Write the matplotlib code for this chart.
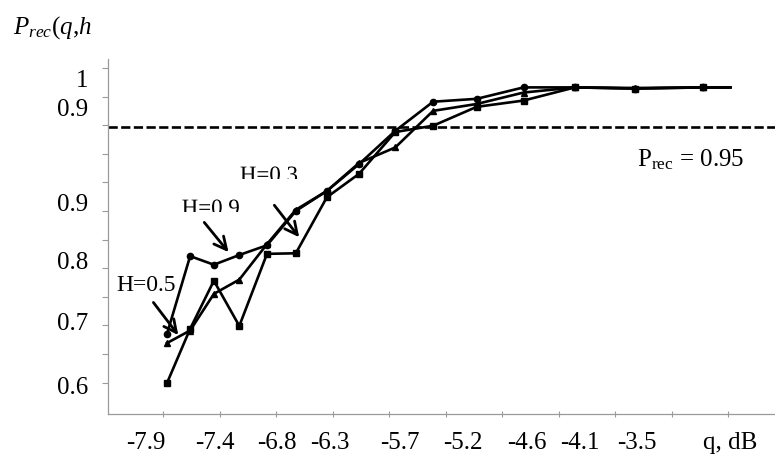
import matplotlib
matplotlib.use("Agg")
import matplotlib.pyplot as plt
from matplotlib.transforms import Bbox, TransformedBbox, Affine2D, ScaledTranslation
from matplotlib.textpath import TextPath
from matplotlib.patches import PathPatch
from matplotlib.font_manager import FontProperties

plt.rcParams['font.family'] = ['Liberation Serif', 'DejaVu Serif']
plt.rcParams['mathtext.fontset'] = 'custom'
plt.rcParams['mathtext.rm'] = 'Liberation Serif'
plt.rcParams['mathtext.it'] = 'Liberation Serif:italic'

# positions along the (uneven) q axis, in tick units
q_pos = [1.07, 1.48, 1.90, 2.35, 2.84, 3.35, 3.90, 4.47, 5.11, 5.78, 6.55,
         7.38, 8.29, 9.35, 10.56, 11.04]

p_h09 = [0.685, 0.821, 0.806, 0.823, 0.840, 0.900, 0.935, 0.982, 1.040,
         1.091, 1.096, 1.116, 1.116, 1.114, 1.116, 1.116]
p_h05 = [0.669, 0.691, 0.755, 0.780, 0.842, 0.902, 0.935, 0.984, 1.011,
         1.075, 1.087, 1.107, 1.116, 1.115, 1.116, 1.116]
p_h03 = [0.599, 0.694, 0.778, 0.699, 0.825, 0.826, 0.924, 0.965, 1.038,
         1.049, 1.082, 1.093, 1.116, 1.114, 1.116, 1.116]

p_threshold = 1.047

x_labels = ['-7.9', '-7.4', '-6.8', '-6.3', '-5.7', '-5.2', '-4.6', '-4.1',
            '-3.5', 'q, dB']
x_label_pos = [0.69, 1.92, 3.01, 3.96, 5.20, 6.31, 7.44, 8.38, 9.38, 11.04]

y_labels = ['0.6', '0.7', '0.8', '0.9', '0.9', '1']
y_label_pos = [0.597, 0.708, 0.816, 0.916, 1.082, 1.134]

fig = plt.figure(figsize=(7.75, 4.6), dpi=100)
ax = fig.add_axes([0.1394, 0.0978, 0.8606, 0.7717])

mk = list(range(len(q_pos) - 1))
ax.plot(q_pos, p_h09, color='black', lw=1.9, marker='o', ms=4.5, markevery=mk)
ax.plot(q_pos, p_h05, color='black', lw=1.9, marker='^', ms=4.5, markevery=mk)
ax.plot(q_pos, p_h03, color='black', lw=1.9, marker='s', ms=4.5, markevery=mk)

ax.axhline(p_threshold, color='black', lw=1.9, linestyle=(0, (3.5, 1.3)))

ax.set_xlim(0.027, 11.83)
ax.set_ylim(0.545, 1.1656)

ax.spines['top'].set_visible(False)
ax.spines['right'].set_visible(False)
for s in ('left', 'bottom'):
    ax.spines[s].set_color('#9a9a9a')
    ax.spines[s].set_linewidth(0.9)

ax.set_xticks(x_label_pos)
ax.set_xticklabels(x_labels)
ax.set_xticks(list(range(1, 12)), minor=True)
ax.set_yticks(y_label_pos)
ax.set_yticklabels(y_labels)
ax.set_yticks([0.55 + 0.05 * k for k in range(1, 13)], minor=True)

ax.tick_params(axis='x', which='major', length=0, pad=12, labelsize=18)
ax.tick_params(axis='y', which='major', length=0, pad=14, labelsize=18)
ax.tick_params(axis='x', which='minor', direction='inout', length=5,
               color='#9a9a9a', width=0.8)
ax.tick_params(axis='y', which='minor', direction='out', length=4,
               color='#9a9a9a', width=0.8)

fig.text(0.0168, 0.928, r'$P_{rec}(q{,}h$', fontsize=18, va='baseline')

ax.text(9.39, 0.991, r'P$_{\mathrm{rec}}$ = 0.95', fontsize=18, va='center')

arrow = dict(arrowstyle='->,head_length=0.9,head_width=0.45', color='black',
             lw=2.0, shrinkA=0, shrinkB=0)

ax.text(0.70, 0.772, 'H=0.5', fontsize=17, ha='center', va='center')
ax.annotate('', xy=(1.27, 0.683), xytext=(0.83, 0.740), arrowprops=arrow)


def cut_label(s, x, y, y_cut, size=16.5):
    # label whose lower part is cut off, as in the scanned original
    tp = TextPath((0, 0), s, size=size,
                  prop=FontProperties(family='Liberation Serif'))
    tr = Affine2D().scale(fig.dpi / 72.0) + ScaledTranslation(x, y, ax.transData)
    patch = PathPatch(tp, transform=tr, facecolor='black', edgecolor='none')
    ax.add_patch(patch)
    patch.set_clip_box(TransformedBbox(Bbox([[0, y_cut], [12, 1.2]]),
                                       ax.transData))


cut_label('H=0.9', 1.33, 0.8935, 0.8981)
ax.annotate('', xy=(2.16, 0.828), xytext=(1.73, 0.880), arrowprops=arrow)

cut_label('H=0.3', 2.36, 0.9512, 0.9566)
ax.annotate('', xy=(3.41, 0.854), xytext=(2.97, 0.910), arrowprops=arrow)

fig.savefig('out.png', dpi=100)
